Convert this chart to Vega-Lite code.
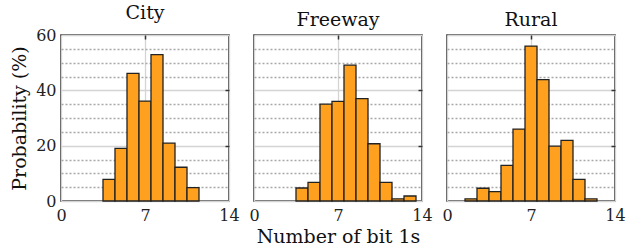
{
  "$schema": "https://vega.github.io/schema/vega-lite/v6.json",
  "padding": {"left": 9, "top": 3, "right": 0, "bottom": 0},
  "data": {"values": [
    {"region": "City", "lo": 3.5, "hi": 4.5, "p": 7.8},
    {"region": "City", "lo": 4.5, "hi": 5.5, "p": 19.0},
    {"region": "City", "lo": 5.5, "hi": 6.5, "p": 46.1},
    {"region": "City", "lo": 6.5, "hi": 7.5, "p": 36.1},
    {"region": "City", "lo": 7.5, "hi": 8.5, "p": 52.9},
    {"region": "City", "lo": 8.5, "hi": 9.5, "p": 20.9},
    {"region": "City", "lo": 9.5, "hi": 10.5, "p": 12.2},
    {"region": "City", "lo": 10.5, "hi": 11.5, "p": 4.8},
    {"region": "Freeway", "lo": 3.5, "hi": 4.5, "p": 4.7},
    {"region": "Freeway", "lo": 4.5, "hi": 5.5, "p": 6.7},
    {"region": "Freeway", "lo": 5.5, "hi": 6.5, "p": 35.0},
    {"region": "Freeway", "lo": 6.5, "hi": 7.5, "p": 36.0},
    {"region": "Freeway", "lo": 7.5, "hi": 8.5, "p": 49.1},
    {"region": "Freeway", "lo": 8.5, "hi": 9.5, "p": 37.0},
    {"region": "Freeway", "lo": 9.5, "hi": 10.5, "p": 20.7},
    {"region": "Freeway", "lo": 10.5, "hi": 11.5, "p": 6.7},
    {"region": "Freeway", "lo": 11.5, "hi": 12.5, "p": 0.8},
    {"region": "Freeway", "lo": 12.5, "hi": 13.5, "p": 1.8},
    {"region": "Rural", "lo": 1.5, "hi": 2.5, "p": 0.8},
    {"region": "Rural", "lo": 2.5, "hi": 3.5, "p": 4.6},
    {"region": "Rural", "lo": 3.5, "hi": 4.5, "p": 3.4},
    {"region": "Rural", "lo": 4.5, "hi": 5.5, "p": 12.9},
    {"region": "Rural", "lo": 5.5, "hi": 6.5, "p": 26.0},
    {"region": "Rural", "lo": 6.5, "hi": 7.5, "p": 56.0},
    {"region": "Rural", "lo": 7.5, "hi": 8.5, "p": 43.9},
    {"region": "Rural", "lo": 8.5, "hi": 9.5, "p": 19.8},
    {"region": "Rural", "lo": 9.5, "hi": 10.5, "p": 21.9},
    {"region": "Rural", "lo": 10.5, "hi": 11.5, "p": 7.8},
    {"region": "Rural", "lo": 11.5, "hi": 12.5, "p": 0.8}
  ]},
  "config": {
    "font": "DejaVu Serif",
    "view": {"stroke": "#333", "strokeWidth": 1.6},
    "axis": {"labelFont": "DejaVu Serif", "labelFontSize": 16, "labelColor": "#222", "titleFont": "DejaVu Serif", "titleFontWeight": "normal", "titleFontSize": 19, "titleColor": "#111", "gridColor": "#d4d4d4", "gridWidth": 1.3, "tickColor": "#333", "tickWidth": 1.5, "domain": false},
    "title": {"font": "DejaVu Serif", "fontSize": 19, "fontWeight": "normal", "color": "#111", "offset": 0}
  },
  "bounds": "flush",
  "spacing": 25,
  "hconcat": [
    {
      "width": 168, "height": 166,
      "title": "City",
      "transform": [{"filter": "datum.region === 'City'"}],
      "resolve": {"axis": {"x": "independent", "y": "independent"}},
      "layer": [
        {"mark": {"type": "bar", "fill": "#FFA01E", "stroke": "#222", "strokeWidth": 1.3},
         "encoding": {
           "x": {"field": "lo", "type": "quantitative", "scale": {"domain": [0, 14], "nice": false}, "axis": {"orient": "bottom", "values": [0, 7, 14], "grid": true, "ticks": false, "labelPadding": 6, "title": null, "labelFlush": false, "labelFont": "DejaVu Serif"}},
           "x2": {"field": "hi"},
           "y": {"field": "p", "type": "quantitative", "scale": {"domain": [0, 60], "nice": false}, "axis": {"orient": "left", "values": [0, 20, 40, 60], "grid": true, "ticks": false, "labelPadding": 5, "title": "Probability (%)", "titlePadding": 6, "labelFlush": false, "labelFont": "DejaVu Serif", "titleFont": "DejaVu Serif"}},
           "y2": {"datum": 0}
         }},
        {"mark": {"type": "bar", "opacity": 0},
         "encoding": {
           "x": {"field": "lo", "type": "quantitative", "axis": {"orient": "top", "values": [7], "labels": false, "grid": false, "tickSize": -4, "title": null, "zindex": 2}},
           "x2": {"field": "hi"},
           "y": {"field": "p", "type": "quantitative", "axis": {"orient": "right", "values": [20, 40], "labels": false, "grid": false, "tickSize": -4, "title": null, "zindex": 2}},
           "y2": {"datum": 0}
         }},
        {"mark": {"type": "bar", "opacity": 0},
         "encoding": {
           "x": {"field": "lo", "type": "quantitative", "axis": null},
           "x2": {"field": "hi"},
           "y": {"field": "p", "type": "quantitative", "axis": {"orient": "left", "values": [5, 10, 15, 25, 30, 35, 45, 50, 55], "labels": false, "ticks": false, "grid": true, "gridDash": [2, 2], "gridColor": "#a8a8a8", "title": null}},
           "y2": {"datum": 0}
         }}
      ]
    },
    {
      "width": 168, "height": 166,
      "title": "Freeway",
      "transform": [{"filter": "datum.region === 'Freeway'"}],
      "resolve": {"axis": {"x": "independent", "y": "independent"}},
      "layer": [
        {"mark": {"type": "bar", "fill": "#FFA01E", "stroke": "#222", "strokeWidth": 1.3},
         "encoding": {
           "x": {"field": "lo", "type": "quantitative", "scale": {"domain": [0, 14], "nice": false}, "axis": {"orient": "bottom", "values": [0, 7, 14], "grid": true, "ticks": false, "labelPadding": 6, "title": "Number of bit 1s", "titlePadding": 4, "labelFlush": false, "labelFont": "DejaVu Serif", "titleFont": "DejaVu Serif"}},
           "x2": {"field": "hi"},
           "y": {"field": "p", "type": "quantitative", "scale": {"domain": [0, 60], "nice": false}, "axis": {"orient": "left", "values": [0, 20, 40, 60], "grid": true, "ticks": false, "labels": false, "title": null}},
           "y2": {"datum": 0}
         }},
        {"mark": {"type": "bar", "opacity": 0},
         "encoding": {
           "x": {"field": "lo", "type": "quantitative", "axis": {"orient": "top", "values": [7], "labels": false, "grid": false, "tickSize": -4, "title": null, "zindex": 2}},
           "x2": {"field": "hi"},
           "y": {"field": "p", "type": "quantitative", "axis": {"orient": "right", "values": [20, 40], "labels": false, "grid": false, "tickSize": -4, "title": null, "zindex": 2}},
           "y2": {"datum": 0}
         }},
        {"mark": {"type": "bar", "opacity": 0},
         "encoding": {
           "x": {"field": "lo", "type": "quantitative", "axis": null},
           "x2": {"field": "hi"},
           "y": {"field": "p", "type": "quantitative", "axis": {"orient": "left", "values": [5, 10, 15, 25, 30, 35, 45, 50, 55], "labels": false, "ticks": false, "grid": true, "gridDash": [2, 2], "gridColor": "#a8a8a8", "title": null}},
           "y2": {"datum": 0}
         }}
      ]
    },
    {
      "width": 168, "height": 166,
      "title": "Rural",
      "transform": [{"filter": "datum.region === 'Rural'"}],
      "resolve": {"axis": {"x": "independent", "y": "independent"}},
      "layer": [
        {"mark": {"type": "bar", "fill": "#FFA01E", "stroke": "#222", "strokeWidth": 1.3},
         "encoding": {
           "x": {"field": "lo", "type": "quantitative", "scale": {"domain": [0, 14], "nice": false}, "axis": {"orient": "bottom", "values": [0, 7, 14], "grid": true, "ticks": false, "labelPadding": 6, "title": null, "labelFlush": false, "labelFont": "DejaVu Serif"}},
           "x2": {"field": "hi"},
           "y": {"field": "p", "type": "quantitative", "scale": {"domain": [0, 60], "nice": false}, "axis": {"orient": "left", "values": [0, 20, 40, 60], "grid": true, "ticks": false, "labels": false, "title": null}},
           "y2": {"datum": 0}
         }},
        {"mark": {"type": "bar", "opacity": 0},
         "encoding": {
           "x": {"field": "lo", "type": "quantitative", "axis": {"orient": "top", "values": [7], "labels": false, "grid": false, "tickSize": -4, "title": null, "zindex": 2}},
           "x2": {"field": "hi"},
           "y": {"field": "p", "type": "quantitative", "axis": {"orient": "right", "values": [20, 40], "labels": false, "grid": false, "tickSize": -4, "title": null, "zindex": 2}},
           "y2": {"datum": 0}
         }},
        {"mark": {"type": "bar", "opacity": 0},
         "encoding": {
           "x": {"field": "lo", "type": "quantitative", "axis": null},
           "x2": {"field": "hi"},
           "y": {"field": "p", "type": "quantitative", "axis": {"orient": "left", "values": [5, 10, 15, 25, 30, 35, 45, 50, 55], "labels": false, "ticks": false, "grid": true, "gridDash": [2, 2], "gridColor": "#a8a8a8", "title": null}},
           "y2": {"datum": 0}
         }}
      ]
    }
  ]
}
